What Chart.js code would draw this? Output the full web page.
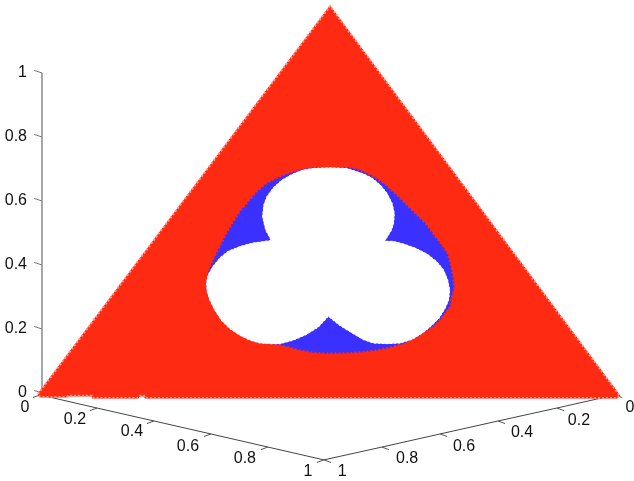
<!DOCTYPE html>
<html>
<head>
<meta charset="utf-8">
<style>
  html, body { margin: 0; padding: 0; background: #fff; }
  canvas { display: block; }
</style>
<script src="https://cdn.jsdelivr.net/npm/chart.js@4"></script>
</head>
<body>
<canvas id="chart" width="634" height="481"></canvas>
<script>
// outlines, in projected plot units (z axis = x 0, floor corner = y 0)
const triangleX = [-0.0125, 0.900, 1.806, 1.797, 0.322, 0.319, 0.306, 0.300, 0.159, 0.156, 0.081, 0.078, -0.006];
const triangleY = [-0.003, 1.209, -0.009, -0.016, -0.016, -0.009, -0.009, -0.016, -0.016, -0.009, -0.009, -0.0125, -0.0125];

const blueX = [0.848, 0.952, 0.983, 1.015, 1.046, 1.077, 1.108, 1.140, 1.171, 1.202, 1.228, 1.249, 1.267, 1.277, 1.285, 1.288, 1.280, 1.275, 1.239, 1.207, 1.171, 1.129, 1.088, 1.046, 1.004, 0.962, 0.921, 0.879, 0.838, 0.806, 0.775, 0.744, 0.712, 0.681, 0.650, 0.619, 0.582, 0.551, 0.530, 0.517, 0.515, 0.520, 0.535, 0.556, 0.577, 0.598, 0.619, 0.645, 0.671, 0.702, 0.733, 0.770, 0.806];
const blueY = [0.703, 0.705, 0.700, 0.687, 0.671, 0.647, 0.619, 0.587, 0.556, 0.526, 0.489, 0.462, 0.436, 0.400, 0.358, 0.327, 0.301, 0.270, 0.223, 0.197, 0.176, 0.155, 0.143, 0.134, 0.129, 0.126, 0.124, 0.124, 0.128, 0.134, 0.143, 0.150, 0.155, 0.157, 0.166, 0.181, 0.207, 0.244, 0.280, 0.317, 0.343, 0.379, 0.416, 0.457, 0.499, 0.535, 0.567, 0.598, 0.629, 0.655, 0.671, 0.686, 0.697];

const holeX = [0.848, 0.900, 0.952, 1.004, 1.030, 1.056, 1.077, 1.093, 1.100, 1.098, 1.091, 1.069, 1.098, 1.129, 1.166, 1.202, 1.233, 1.254, 1.267, 1.273, 1.270, 1.259, 1.239, 1.212, 1.186, 1.155, 1.119, 1.077, 1.035, 1.004, 0.973, 0.931, 0.895, 0.863, 0.827, 0.785, 0.744, 0.712, 0.681, 0.650, 0.619, 0.587, 0.561, 0.541, 0.525, 0.517, 0.515, 0.520, 0.535, 0.556, 0.582, 0.619, 0.660, 0.718, 0.700, 0.690, 0.694, 0.704, 0.723, 0.749, 0.785, 0.817];
const holeY = [0.701, 0.703, 0.701, 0.684, 0.671, 0.650, 0.624, 0.593, 0.562, 0.530, 0.509, 0.473, 0.473, 0.465, 0.452, 0.434, 0.410, 0.384, 0.353, 0.322, 0.291, 0.265, 0.233, 0.207, 0.186, 0.168, 0.157, 0.155, 0.157, 0.168, 0.186, 0.212, 0.241, 0.207, 0.184, 0.166, 0.155, 0.155, 0.157, 0.166, 0.181, 0.202, 0.228, 0.259, 0.291, 0.317, 0.343, 0.369, 0.395, 0.421, 0.442, 0.457, 0.468, 0.476, 0.509, 0.551, 0.588, 0.614, 0.640, 0.664, 0.684, 0.696];

const zTicks = [0, 0.2, 0.4, 0.6, 0.8, 1];

// floor axes, tick positions from 0 to 1
const leftAxisX = [-0.006, 0.172, 0.350, 0.528, 0.706, 0.881];
const leftAxisY = [-0.006, -0.047, -0.0875, -0.128, -0.169, -0.209];
const rightAxisX = [1.791, 1.609, 1.425, 1.244, 1.062, 0.881];
const rightAxisY = [-0.006, -0.047, -0.0875, -0.128, -0.169, -0.209];

const floorLabels = ['0', '0.2', '0.4', '0.6', '0.8', '1'];
const leftLabelX = [-0.053, 0.103, 0.281, 0.456, 0.634, 0.831];
const leftLabelY = [-0.047, -0.084, -0.122, -0.166, -0.206, -0.247];
const rightLabelX = [1.8375, 1.678, 1.5, 1.319, 1.141, 0.938];
const rightLabelY = [-0.047, -0.0875, -0.125, -0.169, -0.206, -0.247];

const zip = (xs, ys) => xs.map((x, i) => ({ x, y: ys[i] }));
const closed = pts => pts.concat(pts[0]);

// short tick segments, null breaks the line between them
const tickSegments = (xs, ys, dx, dy) => xs.flatMap((x, i) => [
  { x, y: ys[i] },
  { x: x + dx, y: ys[i] + dy },
  { x: null, y: null }
]);

const polygon = (data, color, order) => ({
  data: closed(data),
  showLine: true,
  fill: 'shape',
  backgroundColor: color,
  borderColor: color,
  borderWidth: 1,
  pointRadius: 0,
  tension: 0,
  order
});

const line = (data, color, width, order, dash) => ({
  data,
  showLine: true,
  fill: false,
  borderColor: color,
  borderWidth: width,
  borderDash: dash || [],
  pointRadius: 0,
  tension: 0,
  spanGaps: false,
  order
});

// floor tick labels sit in the plot, no scale can place them
const floorLabelPlugin = {
  id: 'floorLabels',
  afterDraw(chart) {
    const { ctx, scales } = chart;
    ctx.save();
    ctx.font = '16px "Liberation Sans"';
    ctx.fillStyle = '#111';
    ctx.textAlign = 'center';
    ctx.textBaseline = 'middle';
    floorLabels.forEach((text, i) => {
      ctx.fillText(text, scales.x.getPixelForValue(leftLabelX[i]), scales.y.getPixelForValue(leftLabelY[i]));
      ctx.fillText(text, scales.x.getPixelForValue(rightLabelX[i]), scales.y.getPixelForValue(rightLabelY[i]));
    });
    ctx.restore();
  }
};

new Chart(document.getElementById('chart').getContext('2d'), {
  type: 'scatter',
  data: {
    datasets: [
      line(zTicks.map(z => ({ x: 0, y: z })), '#8a8a8a', 1.5, 9),
      line(tickSegments(zTicks.map(() => 0), zTicks, -0.025, 0.008), '#777', 1, 9),
      line(zip(leftAxisX, leftAxisY), '#444', 1, 9),
      line(zip(rightAxisX, rightAxisY), '#444', 1, 9),
      line(tickSegments(leftAxisX, leftAxisY, -0.022, -0.008), '#555', 1, 9),
      line(tickSegments(rightAxisX, rightAxisY, 0.022, -0.008), '#555', 1, 9),
      polygon(zip(triangleX, triangleY), '#ff2a12', 6),
      line(closed(zip(triangleX, triangleY)), '#ff9a8c', 2, 5, [2, 2]),
      polygon(zip(blueX, blueY), '#3a30ff', 4),
      line(closed(zip(blueX, blueY)), '#ff2a12', 1.5, 3.5, [2, 2]),
      polygon(zip(holeX, holeY), '#ffffff', 3),
      line(closed(zip(holeX, holeY)), '#ffffff', 1.5, 2, [2, 2])
    ]
  },
  options: {
    responsive: false,
    animation: false,
    layout: { padding: 0 },
    plugins: { legend: { display: false }, tooltip: { enabled: false } },
    scales: {
      x: { type: 'linear', display: false, min: -0.0375, max: 1.85 },
      y: {
        type: 'linear',
        min: -0.275,
        max: 1.228,
        afterFit(scale) {
          scale.width = 30;
          scale.paddingTop = 0;
          scale.paddingBottom = 0;
        },
        afterBuildTicks(scale) { scale.ticks = zTicks.map(value => ({ value })); },
        grid: { display: false, drawTicks: false },
        border: { display: false },
        ticks: {
          autoSkip: false,
          padding: 3,
          color: '#111',
          font: { family: '"Liberation Sans"', size: 16 },
          callback: value => String(value)
        }
      }
    }
  },
  plugins: [floorLabelPlugin]
});
</script>
</body>
</html>
